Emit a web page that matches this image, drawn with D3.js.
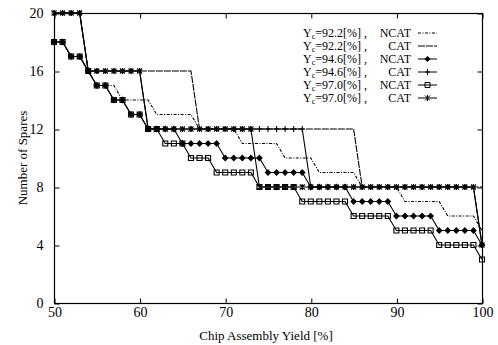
<!DOCTYPE html>
<html>
<head>
<meta charset="utf-8">
<script src="https://cdn.jsdelivr.net/npm/d3@7/dist/d3.min.js"></script>
<style>
body { margin: 0; background: #fff; }
text { font-family: 'Liberation Serif', 'Times New Roman', serif; fill: #000; }
</style>
</head>
<body>
<svg width="498" height="345"></svg>
<script>
var svg = d3.select('svg')

// chip assembly yield [%] (one point per integer)
var yields = [50,51,52,53,54,55,56,57,58,59,60,61,62,63,64,65,66,67,68,69,70,
	71,72,73,74,75,76,77,78,79,80,81,82,83,84,85,86,87,88,89,90,
	91,92,93,94,95,96,97,98,99,100]

// number of spares
var ncat922 = [18,18,17,17,16,15,15,15,14,14,14,14,13,13,13,13,13,12,12,12,12,
	12,11,11,11,11,11,10,10,10,10,9,9,9,9,9,8,8,8,8,8,
	7,7,7,7,7,6,6,6,6,5]
var cat922 = [20,20,20,20,16,16,16,16,16,16,16,16,16,16,16,16,16,12,12,12,12,
	12,12,12,12,12,12,12,12,12,12,12,12,12,12,12,8,8,8,8,8,
	8,8,8,8,8,8,8,8,8,8]
var ncat946 = [18,18,17,17,16,15,15,14,14,13,13,12,12,12,12,11,11,11,11,11,10,
	10,10,10,10,9,9,9,9,9,8,8,8,8,8,7,7,7,7,7,6,
	6,6,6,6,5,5,5,5,5,4]
var cat946 = [20,20,20,20,16,16,16,16,16,16,16,12,12,12,12,12,12,12,12,12,12,
	12,12,12,12,12,12,12,12,12,8,8,8,8,8,8,8,8,8,8,8,
	8,8,8,8,8,8,8,8,8,4]
var ncat970 = [18,18,17,17,16,15,15,14,14,13,13,12,12,11,11,11,10,10,10,9,9,
	9,9,9,8,8,8,8,8,7,7,7,7,7,7,6,6,6,6,6,5,
	5,5,5,5,4,4,4,4,4,3]
var cat970 = [20,20,20,20,16,16,16,16,16,16,16,12,12,12,12,12,12,12,12,12,12,
	12,12,12,8,8,8,8,8,8,8,8,8,8,8,8,8,8,8,8,8,
	8,8,8,8,8,8,8,8,8,4]

var ycLabels = ['92.2', '92.2', '94.6', '94.6', '97.0', '97.0']
var kindLabels = ['NCAT', 'CAT', 'NCAT', 'CAT', 'NCAT', 'CAT']

var xTicks = [50, 60, 70, 80, 90, 100]
var yTicks = [0, 4, 8, 12, 16, 20]

var series = [
	{values: ncat922, dash: '3,1.5,1,1.5', marker: null},
	{values: cat922, dash: '7,1', marker: null},
	{values: ncat946, dash: null, marker: 'diamond'},
	{values: cat946, dash: null, marker: 'plus'},
	{values: ncat970, dash: null, marker: 'square'},
	{values: cat970, dash: null, marker: 'star'}
]

// plot box (avoid window.top etc.)
var pLeft = 54, pRight = 482, pTop = 13, pBottom = 303

var x = d3.scaleLinear().domain([50, 100]).range([pLeft, pRight])
var y = d3.scaleLinear().domain([0, 20]).range([pBottom, pTop])

//marker shapes like gnuplot point types
function markerPath(type) {
	if(type == 'diamond') return 'M0,-2.6L2.6,0L0,2.6L-2.6,0Z'
	if(type == 'plus') return 'M-2.5,0H2.5M0,-3V3'
	if(type == 'square') return 'M-2.5,-2.5h5v5h-5Z'
	if(type == 'star') return 'M-2.5,-2.5L2.5,2.5M-2.5,2.5L2.5,-2.5M0,-3V3'
	return ''
}

//frame
svg.append('rect')
	.attr('x', pLeft + 0.5).attr('y', pTop + 0.5)
	.attr('width', pRight - pLeft).attr('height', pBottom - pTop)
	.attr('fill', 'none').attr('stroke', '#000').attr('stroke-width', 1.2)

//axes with inward ticks, mirrored
svg.append('g').attr('transform', 'translate(0.5,' + (pBottom + 0.5) + ')')
	.call(d3.axisBottom(x).tickValues(xTicks).tickSizeInner(-5).tickSizeOuter(0).tickPadding(4))
svg.append('g').attr('transform', 'translate(0.5,' + (pTop + 0.5) + ')')
	.call(d3.axisTop(x).tickValues(xTicks).tickSizeInner(-5).tickSizeOuter(0).tickFormat(''))
svg.append('g').attr('transform', 'translate(' + (pLeft + 0.5) + ',0.5)')
	.call(d3.axisLeft(y).tickValues(yTicks).tickSizeInner(-5).tickSizeOuter(0).tickPadding(11))
svg.append('g').attr('transform', 'translate(' + (pRight + 0.5) + ',0.5)')
	.call(d3.axisRight(y).tickValues(yTicks).tickSizeInner(-5).tickSizeOuter(0).tickFormat(''))

svg.selectAll('.domain').remove()
svg.selectAll('.tick line').attr('stroke', '#000')
svg.selectAll('.tick text')
	.attr('font-family', "'Liberation Serif', serif")
	.attr('font-size', 14)
	.attr('fill', '#000')

//axis titles
svg.append('text')
	.attr('x', (pLeft + pRight) / 2 - 2).attr('y', 340)
	.attr('text-anchor', 'middle')
	.attr('font-size', 13)
	.text('Chip Assembly Yield [%]')
svg.append('text')
	.attr('transform', 'translate(27,' + (pTop + pBottom) / 2 + ') rotate(-90)')
	.attr('text-anchor', 'middle')
	.attr('font-size', 13)
	.text('Number of Spares')

var line = d3.line()
	.x(function(d, i) { return x(yields[i]) })
	.y(function(d) { return y(d) })

var plot = svg.append('g')

series.forEach(function(s) {
	plot.append('path')
		.attr('d', line(s.values))
		.attr('fill', 'none')
		.attr('stroke', '#000')
		.attr('stroke-width', 1.1)
		.attr('stroke-dasharray', s.dash)
	if(s.marker) {
		plot.selectAll(null)
			.data(s.values)
			.enter()
			.append('path')
			.attr('transform', function(d, i) { return 'translate(' + x(yields[i]) + ',' + y(d) + ')' })
			.attr('d', markerPath(s.marker))
			.attr('fill', s.marker == 'diamond' ? '#000' : 'none')
			.attr('stroke', '#000')
			.attr('stroke-width', 1.1)
	}
})

//legend, right justified like gnuplot
var legend = svg.append('g')
var rowY0 = 33, rowStep = 13
series.forEach(function(s, i) {
	var cy = rowY0 + i * rowStep
	var t = legend.append('text')
		.attr('x', 303).attr('y', cy + 4)
		.attr('font-size', 12)
	t.append('tspan').text('Y')
	t.append('tspan').attr('font-size', 8).attr('dy', 1.5).text('c')
	t.append('tspan').attr('dy', -1.5).text('=' + ycLabels[i] + '[%] ,')
	legend.append('text')
		.attr('x', 411).attr('y', cy + 4)
		.attr('text-anchor', 'end')
		.attr('font-size', 12)
		.text(kindLabels[i])
	legend.append('line')
		.attr('x1', 418).attr('x2', 437)
		.attr('y1', cy).attr('y2', cy)
		.attr('stroke', '#000')
		.attr('stroke-dasharray', s.dash)
	if(s.marker) {
		legend.append('path')
			.attr('transform', 'translate(427.5,' + cy + ')')
			.attr('d', markerPath(s.marker))
			.attr('fill', s.marker == 'diamond' ? '#000' : 'none')
			.attr('stroke', '#000')
	}
})
</script>
</body>
</html>
